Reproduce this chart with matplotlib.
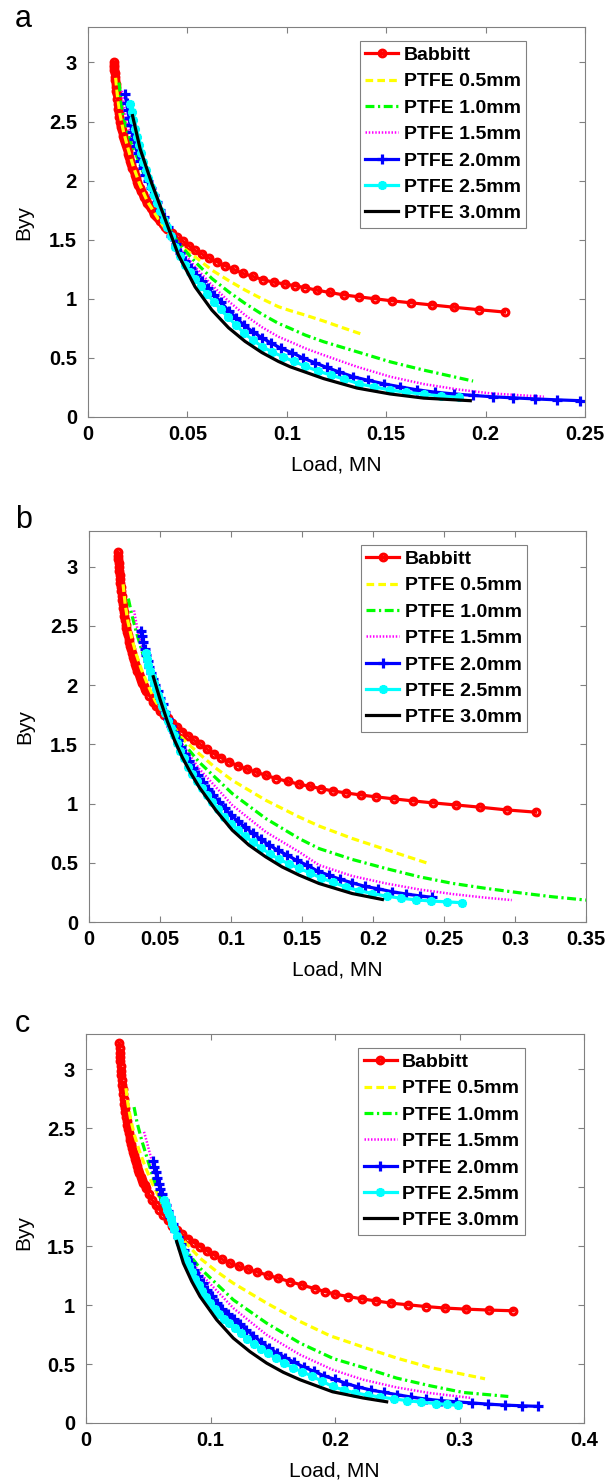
import matplotlib
matplotlib.use('Agg')
import matplotlib.pyplot as plt

plt.rcParams['font.family'] = ['Liberation Sans', 'DejaVu Sans']

# ---------------- data ----------------
SERIES = ['Babbitt', 'PTFE 0.5mm', 'PTFE 1.0mm', 'PTFE 1.5mm',
          'PTFE 2.0mm', 'PTFE 2.5mm', 'PTFE 3.0mm']
Y_TICKS = [0, 0.5, 1, 1.5, 2, 2.5, 3]
Y_TICKLABELS = ['0', '0.5', '1', '1.5', '2', '2.5', '3']
A_XTICKS = [0, 0.05, 0.1, 0.15, 0.2, 0.25]
A_XTICKLABELS = ['0', '0.05', '0.1', '0.15', '0.2', '0.25']
B_XTICKS = [0, 0.05, 0.1, 0.15, 0.2, 0.25, 0.3, 0.35]
B_XTICKLABELS = ['0', '0.05', '0.1', '0.15', '0.2', '0.25', '0.3', '0.35']
C_XTICKS = [0, 0.1, 0.2, 0.3, 0.4]
C_XTICKLABELS = ['0', '0.1', '0.2', '0.3', '0.4']

# ---- panel a ----
A_BAB_X = [0.0129,0.0130,0.0131,0.01325,0.0134,0.01355,0.0137,0.0139,0.0141,0.0143,0.0145,0.01475,0.0150,0.01525,0.0155,0.0158,0.0161,0.0164,0.0167,0.01705,0.0174,0.0178,0.0182,0.0186,0.0190,0.01945,0.0199,0.02035,0.0208,0.0213,0.0218,0.02235,0.0229,0.0235,0.0241,0.02475,0.0254,0.0261,0.0268,0.02755,0.0283,0.0291,0.0299,0.03075,0.0316,0.0325,0.0334,0.0344,0.0354,0.03645,0.0375,0.03865,0.0398,0.0422,0.0448,0.0476,0.0506,0.0538,0.0572,0.0608,0.0647,0.0688,0.0732,0.0779,0.0829,0.0882,0.0938,0.0990,0.1042,0.1093,0.1151,0.1215,0.1286,0.1361,0.1445,0.1529,0.1625,0.1730,0.1840,0.1965,0.2096]
A_BAB_Y = [3.00,2.98,2.96,2.935,2.91,2.88,2.85,2.82,2.79,2.76,2.73,2.69,2.65,2.61,2.57,2.535,2.50,2.475,2.45,2.425,2.40,2.375,2.35,2.325,2.30,2.275,2.25,2.225,2.20,2.17,2.14,2.11,2.08,2.05,2.02,1.99,1.96,1.935,1.91,1.885,1.86,1.835,1.81,1.79,1.77,1.745,1.72,1.70,1.68,1.655,1.63,1.61,1.59,1.56,1.52,1.49,1.45,1.41,1.38,1.345,1.315,1.28,1.25,1.215,1.19,1.16,1.14,1.125,1.110,1.094,1.073,1.054,1.033,1.017,1.000,0.983,0.966,0.948,0.929,0.908,0.888]
A_P05_X = [0.0139,0.0148,0.0160,0.0178,0.0200,0.0228,0.0260,0.0300,0.0360,0.0400,0.0455,0.0539,0.0623,0.0707,0.0790,0.0875,0.0958,0.1017,0.1093,0.1185,0.1280,0.1378]
A_P05_Y = [2.87,2.72,2.57,2.42,2.28,2.12,1.97,1.82,1.66,1.57,1.46,1.355,1.243,1.155,1.074,1.000,0.933,0.900,0.862,0.812,0.756,0.700]
A_P10_X = [0.0156,0.0168,0.0185,0.0208,0.0237,0.0270,0.0304,0.0371,0.0455,0.0539,0.0623,0.0707,0.0790,0.0875,0.0958,0.1017,0.1093,0.1185,0.1353,0.1520,0.1688,0.1937]
A_P10_Y = [2.83,2.65,2.50,2.37,2.24,2.10,1.975,1.70,1.47,1.313,1.172,1.060,0.961,0.870,0.792,0.750,0.693,0.637,0.552,0.467,0.397,0.304]
A_P15_X = [0.0171,0.0185,0.0205,0.0245,0.0310,0.0375,0.0455,0.0539,0.0623,0.0707,0.0790,0.0875,0.0958,0.1017,0.1093,0.1185,0.1353,0.1520,0.1688,0.1857,0.2024,0.2293]
A_P15_Y = [2.76,2.58,2.44,2.25,1.975,1.70,1.44,1.27,1.116,0.980,0.862,0.760,0.679,0.637,0.581,0.524,0.425,0.341,0.279,0.234,0.200,0.172]
A_P20_X = [0.0188,0.0194,0.0200,0.0207,0.0215,0.0223,0.0232,0.0242,0.0252,0.0263,0.0275,0.0287,0.0300,0.0315,0.0330,0.0345,0.0362,0.0380,0.0400,0.0420,0.0442,0.0465,0.0490,0.0516,0.0543,0.0572,0.0603,0.0636,0.0670,0.0707,0.0745,0.0786,0.0830,0.0875,0.0922,0.0972,0.1025,0.1080,0.1140,0.1200,0.1265,0.1335,0.1410,0.1490,0.1570,0.1655,0.1745,0.1840,0.1935,0.2035,0.2140,0.2250,0.2360,0.2477]
A_P20_Y = [2.73,2.66,2.60,2.53,2.47,2.41,2.35,2.29,2.23,2.17,2.11,2.05,2.00,1.94,1.88,1.82,1.75,1.69,1.61,1.53,1.46,1.39,1.32,1.26,1.205,1.15,1.09,1.03,0.97,0.90,0.84,0.775,0.72,0.67,0.625,0.58,0.545,0.50,0.46,0.42,0.38,0.34,0.31,0.28,0.255,0.23,0.21,0.195,0.183,0.171,0.162,0.153,0.145,0.138]
A_P25_X = [0.0213,0.0220,0.0228,0.0237,0.0246,0.0256,0.0267,0.0278,0.0290,0.0303,0.0317,0.0331,0.0346,0.0362,0.0380,0.0398,0.0418,0.0440,0.0462,0.0486,0.0512,0.0539,0.0568,0.0599,0.0632,0.0667,0.0704,0.0743,0.0785,0.0830,0.0877,0.0927,0.0980,0.1035,0.1093,0.1155,0.1220,0.1290,0.1365,0.1440,0.1520,0.1600,0.1690,0.1775,0.1865]
A_P25_Y = [2.65,2.58,2.51,2.44,2.37,2.30,2.23,2.16,2.09,2.02,1.95,1.88,1.81,1.74,1.67,1.61,1.53,1.44,1.36,1.29,1.23,1.17,1.105,1.04,0.975,0.91,0.845,0.78,0.71,0.65,0.595,0.55,0.51,0.47,0.43,0.39,0.355,0.32,0.28,0.255,0.228,0.21,0.192,0.178,0.166]
A_P30_X = [0.0224,0.0262,0.0320,0.0380,0.0455,0.0539,0.0623,0.0707,0.0790,0.0875,0.0958,0.1017,0.1093,0.1185,0.1353,0.1520,0.1688,0.1923]
A_P30_Y = [2.55,2.27,1.98,1.71,1.37,1.10,0.905,0.755,0.640,0.545,0.470,0.425,0.380,0.325,0.245,0.195,0.160,0.138]

# ---- panel b ----
B_BAB_X = [0.0204,0.02055,0.0207,0.0209,0.0211,0.02135,0.0216,0.02185,0.0221,0.0224,0.0227,0.02305,0.0234,0.02375,0.0241,0.0245,0.0249,0.02535,0.0258,0.0263,0.0268,0.02735,0.0279,0.0285,0.0291,0.02975,0.0304,0.0311,0.0318,0.03255,0.0333,0.0341,0.0349,0.03575,0.0366,0.0375,0.0384,0.0394,0.0404,0.0425,0.0448,0.0472,0.0498,0.0526,0.0556,0.0588,0.0622,0.0658,0.0697,0.0738,0.0782,0.0829,0.0879,0.0932,0.0988,0.1047,0.1110,0.1176,0.1246,0.1320,0.1398,0.1480,0.1555,0.1632,0.1718,0.1812,0.1913,0.2023,0.2148,0.2282,0.2425,0.2582,0.2754,0.2941,0.3146]
B_BAB_Y = [3.12,3.09,3.06,3.03,3.00,2.965,2.93,2.895,2.86,2.825,2.79,2.755,2.72,2.685,2.65,2.615,2.58,2.545,2.51,2.48,2.45,2.42,2.39,2.36,2.33,2.30,2.27,2.24,2.21,2.18,2.15,2.12,2.09,2.065,2.04,2.015,1.99,1.97,1.95,1.91,1.86,1.82,1.78,1.75,1.72,1.68,1.645,1.605,1.57,1.535,1.50,1.46,1.42,1.385,1.35,1.32,1.29,1.265,1.238,1.21,1.187,1.163,1.145,1.126,1.106,1.089,1.072,1.056,1.039,1.022,1.005,0.988,0.969,0.946,0.927]
B_P05_X = [0.0240,0.0255,0.0275,0.0300,0.0330,0.0370,0.0415,0.0465,0.0540,0.0657,0.0775,0.0892,0.1009,0.1244,0.1479,0.1620,0.1854,0.2089,0.2390]
B_P05_Y = [2.85,2.68,2.53,2.40,2.27,2.13,2.00,1.87,1.73,1.548,1.421,1.300,1.196,1.028,0.887,0.810,0.705,0.612,0.494]
B_P10_X = [0.0277,0.0300,0.0335,0.0375,0.0434,0.0516,0.0580,0.0657,0.0775,0.1009,0.1244,0.1479,0.1620,0.1854,0.2089,0.2324,0.2559,0.2794,0.3028,0.3263,0.3500]
B_P10_Y = [2.73,2.60,2.44,2.28,2.095,1.814,1.67,1.519,1.350,1.084,0.874,0.705,0.620,0.528,0.452,0.382,0.326,0.284,0.247,0.213,0.185]
B_P15_X = [0.0317,0.0340,0.0370,0.0446,0.0520,0.0600,0.0657,0.0775,0.1009,0.1244,0.1479,0.1620,0.1854,0.2089,0.2324,0.2559,0.2794,0.2977]
B_P15_Y = [2.63,2.48,2.34,2.095,1.814,1.62,1.50,1.294,0.986,0.761,0.592,0.480,0.388,0.326,0.275,0.236,0.205,0.185]
B_P20_X = [0.0364,0.0372,0.0381,0.0391,0.0402,0.0413,0.0425,0.0438,0.0452,0.0467,0.0483,0.0500,0.0518,0.0537,0.0557,0.0578,0.0600,0.0624,0.0649,0.0676,0.0705,0.0735,0.0767,0.0801,0.0837,0.0875,0.0915,0.0957,0.1002,0.1050,0.1100,0.1153,0.1209,0.1268,0.1330,0.1395,0.1463,0.1535,0.1610,0.1688,0.1770,0.1855,0.1945,0.2038,0.2135,0.2235,0.2330,0.2418]
B_P20_Y = [2.46,2.41,2.36,2.30,2.25,2.20,2.15,2.10,2.05,2.00,1.95,1.89,1.84,1.77,1.71,1.655,1.60,1.54,1.48,1.42,1.355,1.30,1.24,1.18,1.125,1.07,1.015,0.96,0.90,0.85,0.80,0.75,0.70,0.65,0.605,0.565,0.52,0.48,0.43,0.395,0.36,0.33,0.30,0.28,0.255,0.236,0.22,0.208]
B_P25_X = [0.0400,0.0409,0.0419,0.0430,0.0442,0.0455,0.0469,0.0484,0.0500,0.0517,0.0535,0.0554,0.0574,0.0596,0.0619,0.0644,0.0670,0.0698,0.0728,0.0760,0.0794,0.0830,0.0868,0.0909,0.0952,0.0998,0.1047,0.1099,0.1154,0.1212,0.1274,0.1339,0.1408,0.1480,0.1556,0.1636,0.1720,0.1808,0.1900,0.1996,0.2096,0.2200,0.2305,0.2410,0.2518,0.2625]
B_P25_Y = [2.27,2.22,2.17,2.12,2.07,2.02,1.97,1.92,1.87,1.82,1.76,1.70,1.64,1.575,1.51,1.445,1.38,1.31,1.25,1.19,1.13,1.07,1.01,0.95,0.89,0.83,0.78,0.725,0.675,0.625,0.575,0.53,0.49,0.452,0.415,0.37,0.335,0.295,0.265,0.24,0.218,0.20,0.187,0.177,0.17,0.163]
B_P30_X = [0.0453,0.0500,0.0550,0.0600,0.0657,0.0715,0.0775,0.0892,0.1009,0.1125,0.1244,0.1360,0.1479,0.1620,0.1854,0.2066]
B_P30_Y = [2.07,1.88,1.70,1.54,1.39,1.26,1.14,0.945,0.775,0.65,0.55,0.465,0.396,0.325,0.24,0.19]

# ---- panel c ----
C_BAB_X = [0.0268,0.0270,0.0272,0.0274,0.0276,0.02785,0.0281,0.0284,0.0287,0.02905,0.0294,0.0298,0.0302,0.03065,0.0311,0.0316,0.0321,0.03265,0.0332,0.0338,0.0344,0.03505,0.0357,0.0364,0.0371,0.03785,0.0386,0.0394,0.0402,0.0411,0.0420,0.04295,0.0439,0.04495,0.0460,0.0471,0.0482,0.0506,0.0532,0.0560,0.0590,0.0622,0.0656,0.0693,0.0732,0.0774,0.0819,0.0867,0.0918,0.0972,0.1030,0.1091,0.1156,0.1225,0.1298,0.1376,0.1458,0.1545,0.1637,0.1735,0.1838,0.1920,0.2000,0.2107,0.2214,0.2329,0.2450,0.2584,0.2729,0.2884,0.3052,0.3239,0.3432]
C_BAB_Y = [3.22,3.18,3.14,3.105,3.07,3.03,2.99,2.95,2.91,2.87,2.83,2.79,2.75,2.71,2.67,2.635,2.60,2.565,2.53,2.495,2.46,2.43,2.40,2.365,2.33,2.30,2.27,2.24,2.21,2.18,2.15,2.12,2.09,2.065,2.04,2.015,1.99,1.94,1.89,1.85,1.81,1.765,1.72,1.675,1.64,1.60,1.565,1.53,1.495,1.46,1.425,1.39,1.355,1.33,1.305,1.28,1.255,1.228,1.20,1.17,1.14,1.115,1.093,1.073,1.053,1.036,1.017,1.003,0.988,0.975,0.966,0.958,0.952]
C_P05_X = [0.0321,0.0338,0.0360,0.0390,0.0425,0.0470,0.0520,0.0575,0.0635,0.0701,0.0782,0.0916,0.1050,0.1183,0.1451,0.1719,0.1960,0.2227,0.2495,0.2763,0.3205]
C_P05_Y = [2.84,2.70,2.57,2.44,2.32,2.19,2.06,1.94,1.81,1.68,1.55,1.398,1.285,1.186,1.017,0.861,0.740,0.644,0.551,0.471,0.375]
C_P10_X = [0.0386,0.0410,0.0447,0.0528,0.0621,0.0701,0.0782,0.0916,0.1183,0.1451,0.1719,0.1990,0.2227,0.2495,0.2763,0.3030,0.3392]
C_P10_Y = [2.68,2.55,2.40,2.119,1.836,1.67,1.49,1.314,1.045,0.847,0.678,0.545,0.471,0.381,0.316,0.259,0.225]
C_P15_X = [0.0466,0.0490,0.0554,0.0648,0.0701,0.0782,0.0916,0.1183,0.1451,0.1719,0.1980,0.2227,0.2495,0.2763,0.3098]
C_P15_Y = [2.47,2.38,2.119,1.836,1.67,1.46,1.271,0.975,0.748,0.579,0.452,0.367,0.302,0.254,0.212]
C_P20_X = [0.0541,0.0550,0.0560,0.0571,0.0583,0.0596,0.0610,0.0625,0.0641,0.0658,0.0676,0.0695,0.0716,0.0738,0.0761,0.0786,0.0812,0.0840,0.0870,0.0902,0.0936,0.0972,0.1010,0.1050,0.1093,0.1138,0.1186,0.1236,0.1289,0.1345,0.1404,0.1466,0.1531,0.1600,0.1672,0.1748,0.1828,0.1912,0.2000,0.2092,0.2188,0.2288,0.2392,0.2500,0.2612,0.2728,0.2848,0.2972,0.3100,0.3230,0.3365,0.3500,0.3633]
C_P20_Y = [2.22,2.17,2.13,2.08,2.03,1.985,1.94,1.895,1.85,1.80,1.75,1.685,1.63,1.575,1.52,1.465,1.41,1.355,1.30,1.245,1.185,1.13,1.075,1.02,0.97,0.925,0.885,0.84,0.79,0.74,0.69,0.64,0.595,0.555,0.515,0.475,0.44,0.40,0.37,0.335,0.305,0.28,0.26,0.24,0.22,0.203,0.19,0.18,0.17,0.16,0.152,0.146,0.141]
C_P25_X = [0.0629,0.0640,0.0652,0.0665,0.0679,0.0694,0.0710,0.0727,0.0745,0.0764,0.0784,0.0806,0.0829,0.0853,0.0879,0.0906,0.0935,0.0966,0.0999,0.1034,0.1071,0.1110,0.1152,0.1196,0.1243,0.1293,0.1346,0.1402,0.1461,0.1524,0.1590,0.1660,0.1734,0.1812,0.1894,0.1980,0.2070,0.2164,0.2262,0.2364,0.2470,0.2580,0.2694,0.2812,0.2900,0.2990]
C_P25_Y = [1.89,1.85,1.81,1.77,1.73,1.69,1.645,1.59,1.54,1.49,1.44,1.385,1.33,1.28,1.225,1.17,1.12,1.07,1.02,0.97,0.925,0.885,0.845,0.805,0.76,0.715,0.67,0.63,0.59,0.55,0.51,0.47,0.435,0.40,0.355,0.31,0.28,0.255,0.236,0.22,0.205,0.19,0.177,0.165,0.157,0.15]
C_P30_X = [0.0728,0.0782,0.0850,0.0916,0.1050,0.1183,0.1317,0.1451,0.1585,0.1719,0.1980,0.2227,0.2415]
C_P30_Y = [1.54,1.356,1.20,1.073,0.875,0.72,0.605,0.508,0.43,0.367,0.265,0.212,0.18]

# ---------------- styling ----------------
STYLES = [
    dict(color='#FF0000', ls='-', lw=2.3, marker='o', ms=4.8, mew=2.3, mfc='none'),
    dict(color='#FFFF00', ls=(0, (2.4, 1.3)), lw=2.3),
    dict(color='#00FF00', ls=(0, (2.8, 1.1, 0.7, 1.1)), lw=2.3),
    dict(color='#FF00FF', ls=(0, (0.6, 0.7)), lw=1.8),
    dict(color='#0000FF', ls='-', lw=2.3, marker='+', ms=6.5, mew=2.3),
    dict(color='#00FFFF', ls='-', lw=2.3, marker=(8, 2, 0), ms=6.5, mew=1.8),
    dict(color='#000000', ls='-', lw=2.3),
]
GRAY = '#808080'
W, H = 607, 1483
TICK_FS = 14.5


def px_rect(l, t, r, b):
    return [l / W, 1 - b / H, (r - l) / W, (b - t) / H]


fig = plt.figure(figsize=(W / 100, H / 100), dpi=100)

panels = [
    dict(rect=px_rect(88, 27, 585, 417), xlim=0.25, xt=A_XTICKS, xtl=A_XTICKLABELS,
         data=[(A_BAB_X, A_BAB_Y), (A_P05_X, A_P05_Y), (A_P10_X, A_P10_Y), (A_P15_X, A_P15_Y),
               (A_P20_X, A_P20_Y), (A_P25_X, A_P25_Y), (A_P30_X, A_P30_Y)],
         letter='a', letter_y=27, ylab=(23.5, 222), xlab=(336, 465)),
    dict(rect=px_rect(89, 531, 586, 922), xlim=0.35, xt=B_XTICKS, xtl=B_XTICKLABELS,
         data=[(B_BAB_X, B_BAB_Y), (B_P05_X, B_P05_Y), (B_P10_X, B_P10_Y), (B_P15_X, B_P15_Y),
               (B_P20_X, B_P20_Y), (B_P25_X, B_P25_Y), (B_P30_X, B_P30_Y)],
         letter='b', letter_y=528, ylab=(25, 726.5), xlab=(337, 970)),
    dict(rect=px_rect(86, 1034, 584, 1423), xlim=0.4, xt=C_XTICKS, xtl=C_XTICKLABELS,
         data=[(C_BAB_X, C_BAB_Y), (C_P05_X, C_P05_Y), (C_P10_X, C_P10_Y), (C_P15_X, C_P15_Y),
               (C_P20_X, C_P20_Y), (C_P25_X, C_P25_Y), (C_P30_X, C_P30_Y)],
         letter='c', letter_y=1032, ylab=(24, 1232), xlab=(334, 1471)),
]

for p in panels:
    ax = fig.add_axes(p['rect'])
    handles = []
    for (xs, ys), st, name in zip(p['data'], STYLES, SERIES):
        h, = ax.plot(xs, ys, label=name, **st)
        handles.append(h)
    ax.set_xlim(0, p['xlim'])
    ax.set_ylim(0, 3.3)
    ax.set_xticks(p['xt'])
    ax.set_xticklabels(p['xtl'], fontweight='bold', fontsize=TICK_FS)
    ax.set_yticks(Y_TICKS)
    ax.set_yticklabels(Y_TICKLABELS, fontweight='bold', fontsize=TICK_FS)
    ax.tick_params(direction='in', length=4, width=0.8, color=GRAY,
                   top=True, right=True, labelcolor='black')
    ax.tick_params(axis='x', pad=6)
    ax.tick_params(axis='y', pad=8)
    for s in ax.spines.values():
        s.set_color(GRAY)
        s.set_linewidth(0.8)
    leg = ax.legend(handles=handles, loc='upper left', bbox_to_anchor=(0.547, 0.964),
                    borderaxespad=0, prop=dict(family='Liberation Sans', weight='bold', size=14),
                    handlelength=1.7, handletextpad=0.27, labelspacing=0.45, borderpad=0.28,
                    fancybox=False, framealpha=1, edgecolor=GRAY, numpoints=1)
    leg.get_frame().set_linewidth(0.8)

    fig.text(15 / W, 1 - p['letter_y'] / H, p['letter'], fontsize=22,
             ha='left', va='baseline')
    fig.text(p['ylab'][0] / W, 1 - p['ylab'][1] / H, 'Byy', fontsize=15,
             rotation=90, ha='center', va='center')
    fig.text(p['xlab'][0] / W, 1 - p['xlab'][1] / H, 'Load, MN', fontsize=15,
             ha='center', va='center')

fig.savefig('out.png', dpi=100)
